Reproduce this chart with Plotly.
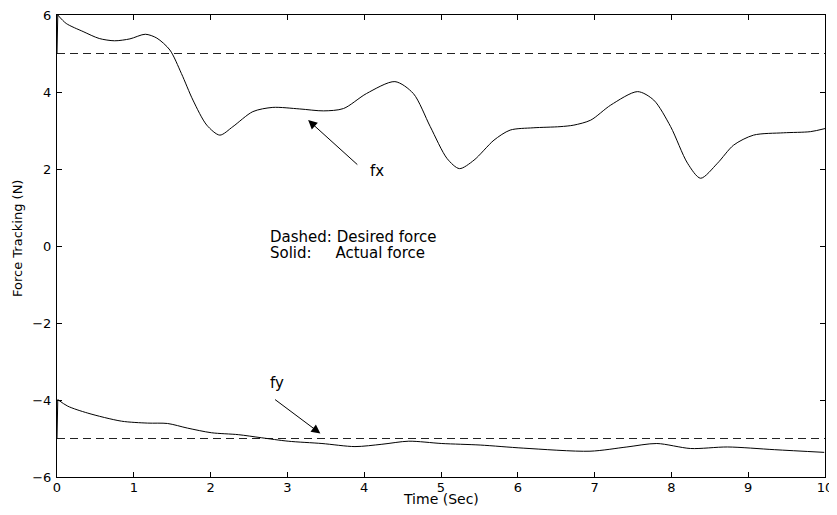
import plotly.graph_objects as go

# ---- data ----
fx_t = [0.0, 0.01, 0.12, 0.34, 0.55, 0.75, 0.95, 1.15, 1.30, 1.47, 1.62, 1.77, 1.95, 2.12,
        2.29, 2.55, 2.81, 3.16, 3.47, 3.73, 4.03, 4.40, 4.64, 4.86, 5.08, 5.24, 5.43,
        5.69, 5.90, 6.20, 6.55, 6.73, 6.95, 7.21, 7.56, 7.77, 7.99, 8.21, 8.38, 8.60,
        8.81, 9.07, 9.46, 9.81, 10.0]
fx_v = [5.0, 6.0, 5.78, 5.57, 5.39, 5.33, 5.38, 5.50, 5.40, 5.09, 4.48, 3.79, 3.14, 2.88,
        3.10, 3.49, 3.60, 3.56, 3.51, 3.57, 3.96, 4.27, 3.96, 3.10, 2.27, 2.01, 2.23,
        2.75, 3.01, 3.07, 3.10, 3.14, 3.27, 3.66, 4.01, 3.79, 3.10, 2.15, 1.76, 2.15,
        2.62, 2.88, 2.94, 2.97, 3.05]

fy_t = [0.0, 0.01, 0.14, 0.40, 0.84, 1.18, 1.44, 1.70, 2.01, 2.36, 2.66, 3.01, 3.45, 3.88,
        4.23, 4.58, 5.01, 5.51, 6.07, 6.94, 7.42, 7.81, 8.25, 8.73, 9.34, 9.99]
fy_v = [-5.0, -3.99, -4.16, -4.34, -4.55, -4.60, -4.61, -4.73, -4.85, -4.90, -4.98, -5.07,
        -5.13, -5.21, -5.15, -5.07, -5.13, -5.17, -5.25, -5.33, -5.22, -5.13, -5.26,
        -5.22, -5.29, -5.36]

desired_t = [0.0, 10.0]
desired_fx = [5.0, 5.0]
desired_fy = [-5.0, -5.0]

x_ticks = [0, 1, 2, 3, 4, 5, 6, 7, 8, 9, 10]
y_ticks = [-6, -4, -2, 0, 2, 4, 6]
y_tick_text = ["\u22126", "\u22124", "\u22122", "0", "2", "4", "6"]

FONT = "DejaVu Sans, Liberation Sans, Arial, sans-serif"
LINE = dict(color="black", width=1)

fig = go.Figure()
# desired (dashed)
for yv in (desired_fx, desired_fy):
    fig.add_trace(go.Scatter(x=desired_t, y=yv, mode="lines",
                             line=dict(color="#222222", width=1, dash="8px,5px"),
                             hoverinfo="skip"))
# actual (solid): initial jump segment + smooth remainder
for tt, vv in ((fx_t, fx_v), (fy_t, fy_v)):
    fig.add_trace(go.Scatter(x=tt[:2], y=vv[:2], mode="lines", line=LINE, hoverinfo="skip"))
    fig.add_trace(go.Scatter(x=tt[1:], y=vv[1:], mode="lines",
                             line=dict(color="black", width=1, shape="spline", smoothing=0.8),
                             hoverinfo="skip"))

TXT = dict(family=FONT, size=15, color="black")
# arrows
fig.add_annotation(x=3.27, y=3.27, ax=3.93, ay=2.08, xref="x", yref="y", axref="x", ayref="y",
                   text="", showarrow=True, arrowhead=2, arrowsize=1.8, arrowwidth=1,
                   arrowcolor="black")
fig.add_annotation(x=4.17, y=1.95, text="fx", showarrow=False, font=TXT)
fig.add_annotation(x=3.43, y=-4.87, ax=2.82, ay=-3.96, xref="x", yref="y", axref="x", ayref="y",
                   text="", showarrow=True, arrowhead=2, arrowsize=1.8, arrowwidth=1,
                   arrowcolor="black")
fig.add_annotation(x=2.86, y=-3.57, text="fy", showarrow=False, font=TXT)
fig.add_annotation(x=2.75, y=0.24, text="Dashed: Desired force", showarrow=False,
                   xanchor="left", font=TXT)
fig.add_annotation(x=2.75, y=-0.18,
                   text="Solid:\u00a0\u00a0\u00a0\u00a0\u00a0Actual force", showarrow=False,
                   xanchor="left", font=TXT)

# axis titles
fig.add_annotation(x=0.5, y=0, xref="paper", yref="paper", text="Time (Sec)",
                   showarrow=False, yanchor="middle", yshift=-22,
                   font=dict(family=FONT, size=14, color="black"))
fig.add_annotation(x=0, y=0.5, xref="paper", yref="paper", text="Force Tracking (N)",
                   showarrow=False, textangle=-90, xanchor="center", yanchor="middle",
                   xshift=-40, yshift=7, font=dict(family=FONT, size=13, color="black"))

axis_common = dict(showline=True, linecolor="black", linewidth=1, mirror="allticks",
                   ticks="inside", ticklen=5, tickcolor="black", tickwidth=1,
                   showgrid=False, zeroline=False, automargin=False,
                   ticklabeloverflow="allow",
                   tickfont=dict(family=FONT, size=13, color="black"))
fig.update_xaxes(range=[0, 10], tickvals=x_ticks, ticktext=[str(v) for v in x_ticks],
                 ticklabelstandoff=-2, **axis_common)
fig.update_yaxes(range=[-6, 6], tickvals=y_ticks, ticktext=y_tick_text,
                 ticklabelstandoff=2, **axis_common)
# the page body has an 8px margin, so the figure is sized/offset to compensate
fig.update_layout(width=829, height=499, showlegend=False,
                  plot_bgcolor="white", paper_bgcolor="white",
                  margin=dict(l=49, r=12, t=7, b=30))
fig.write_html("out.html")
